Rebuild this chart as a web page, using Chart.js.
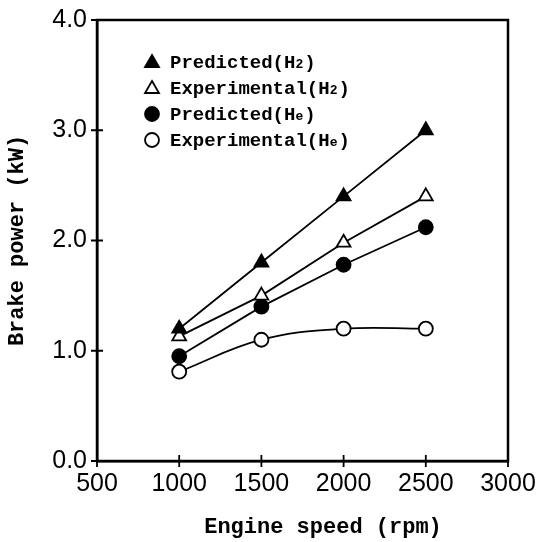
<!DOCTYPE html>
<html lang="en">
<head>
  <meta charset="UTF-8">
  <title>Brake power vs engine speed</title>
  <script src="https://cdn.jsdelivr.net/npm/chart.js"></script>
  <style>
    html, body {
      margin: 0;
      padding: 0;
      background: #fff;
    }
    #wrap {
      width: 540px;
      height: 542px;
    }
  </style>
</head>
<body>
  <div id="wrap"><canvas id="powerChart" width="540" height="542"></canvas></div>

  <script>
    // data
    const speeds = [1000, 1500, 2000, 2500];
    const predictedH2 = [1.2, 1.8, 2.4, 3.0];
    const experimentalH2 = [1.13, 1.5, 1.98, 2.4];
    const predictedHe = [0.95, 1.4, 1.78, 2.12];
    const experimentalHe = [0.81, 1.1, 1.2, 1.2];

    const seriesLabels = ['Predicted(H₂)', 'Experimental(H₂)', 'Predicted(Hₑ)', 'Experimental(Hₑ)'];
    const xTicks = [500, 1000, 1500, 2000, 2500, 3000];
    const yTicks = [0, 1, 2, 3, 4];
    const xTitle = 'Engine speed (rpm)';

    const monoFont = '"Liberation Mono", "DejaVu Sans Mono", monospace';
    const sansFont = '"Liberation Sans", Arial, sans-serif';

    function points(values) {
      return speeds.map((s, i) => ({ x: s, y: values[i] }));
    }

    function series(label, values, style, filled, tension) {
      return {
        label: label,
        data: points(values),
        borderColor: '#000',
        borderWidth: 1.8,
        tension: tension,
        pointStyle: style,
        pointRadius: style === 'triangle' ? 8 : 7,
        pointBorderWidth: 1.8,
        pointBorderColor: '#000',
        pointBackgroundColor: filled ? '#000' : '#fff'
      };
    }

    // frame on top/right, ticks crossing the axes, x title
    const framePlugin = {
      id: 'frame',
      afterDraw(chart) {
        const ctx = chart.ctx;
        const a = chart.chartArea;
        const xs = chart.scales.x;
        const ys = chart.scales.y;
        ctx.save();
        ctx.strokeStyle = '#000';
        ctx.lineWidth = 2.5;
        ctx.strokeRect(a.left, a.top, a.right - a.left, a.bottom - a.top);
        ctx.lineWidth = 1.8;
        ctx.beginPath();
        xTicks.forEach(v => {
          const px = xs.getPixelForValue(v);
          ctx.moveTo(px, a.bottom - 6);
          ctx.lineTo(px, a.bottom + 6);
        });
        yTicks.forEach(v => {
          const py = ys.getPixelForValue(v);
          ctx.moveTo(a.left - 6, py);
          ctx.lineTo(a.left + 6, py);
        });
        ctx.stroke();

        // x axis title sits a little right of centre in the original
        ctx.fillStyle = '#000';
        ctx.font = 'bold 22px ' + monoFont;
        ctx.textAlign = 'center';
        ctx.textBaseline = 'middle';
        ctx.fillText(xTitle, 323, 527);
        ctx.restore();
      }
    };

    // legend drawn inside the plot, upper left
    const legendPlugin = {
      id: 'innerLegend',
      afterDraw(chart) {
        const ctx = chart.ctx;
        const rowsY = [62, 88, 114, 140];
        const markX = 152;
        const textX = 170;
        ctx.save();
        chart.data.datasets.forEach((ds, i) => {
          const y = rowsY[i];
          ctx.fillStyle = ds.pointBackgroundColor;
          ctx.strokeStyle = '#000';
          ctx.lineWidth = 1.8;
          ctx.beginPath();
          if (ds.pointStyle === 'triangle') {
            ctx.moveTo(markX, y - 7);
            ctx.lineTo(markX + 7, y + 5);
            ctx.lineTo(markX - 7, y + 5);
            ctx.closePath();
          } else {
            ctx.arc(markX, y, 7, 0, Math.PI * 2);
          }
          ctx.fill();
          ctx.stroke();

          // text with small subscript
          ctx.fillStyle = '#000';
          ctx.textBaseline = 'alphabetic';
          let x = textX;
          const base = y + 6;
          for (const ch of ds.label) {
            if (ch === '₂' || ch === 'ₑ') {
              ctx.font = 'bold 13px ' + monoFont;
              const c = ch === '₂' ? '2' : 'e';
              ctx.fillText(c, x, base);
              x += ctx.measureText(c).width + 1;
            } else {
              ctx.font = 'bold 19px ' + monoFont;
              ctx.fillText(ch, x, base);
              x += ctx.measureText(ch).width;
            }
          }
        });
        ctx.restore();
      }
    };

    new Chart(document.getElementById('powerChart'), {
      type: 'line',
      data: {
        datasets: [
          series(seriesLabels[0], predictedH2, 'triangle', true, 0),
          series(seriesLabels[1], experimentalH2, 'triangle', false, 0),
          series(seriesLabels[2], predictedHe, 'circle', true, 0),
          series(seriesLabels[3], experimentalHe, 'circle', false, 0.4)
        ]
      },
      options: {
        responsive: false,
        animation: false,
        layout: { padding: { left: 4, right: 32, top: 20, bottom: 2 } },
        plugins: {
          legend: { display: false },
          tooltip: { enabled: false }
        },
        scales: {
          x: {
            type: 'linear',
            min: 500,
            max: 3000,
            afterBuildTicks: s => { s.ticks = xTicks.map(v => ({ value: v })); },
            afterFit: s => { s.height = 79; s.paddingLeft = 0; s.paddingRight = 0; },
            grid: { display: false, drawTicks: false },
            border: { display: true, color: '#000', width: 2.5 },
            ticks: {
              color: '#000',
              padding: 8,
              maxRotation: 0,
              font: { family: sansFont, size: 25 },
              callback: v => String(v)
            },
            title: { display: false }
          },
          y: {
            type: 'linear',
            min: 0,
            max: 4,
            afterBuildTicks: s => { s.ticks = yTicks.map(v => ({ value: v })); },
            afterFit: s => { s.width = 93; s.paddingTop = 0; s.paddingBottom = 0; },
            grid: { display: false, drawTicks: false },
            border: { display: true, color: '#000', width: 2.5 },
            ticks: {
              color: '#000',
              padding: 10,
              font: { family: sansFont, size: 25 },
              callback: v => v.toFixed(1)
            },
            title: {
              display: true,
              text: 'Brake power (kW)',
              color: '#000',
              padding: { top: 0, bottom: 4 },
              font: { family: monoFont, size: 22, weight: 'bold' }
            }
          }
        }
      },
      plugins: [framePlugin, legendPlugin]
    });
  </script>
</body>
</html>
